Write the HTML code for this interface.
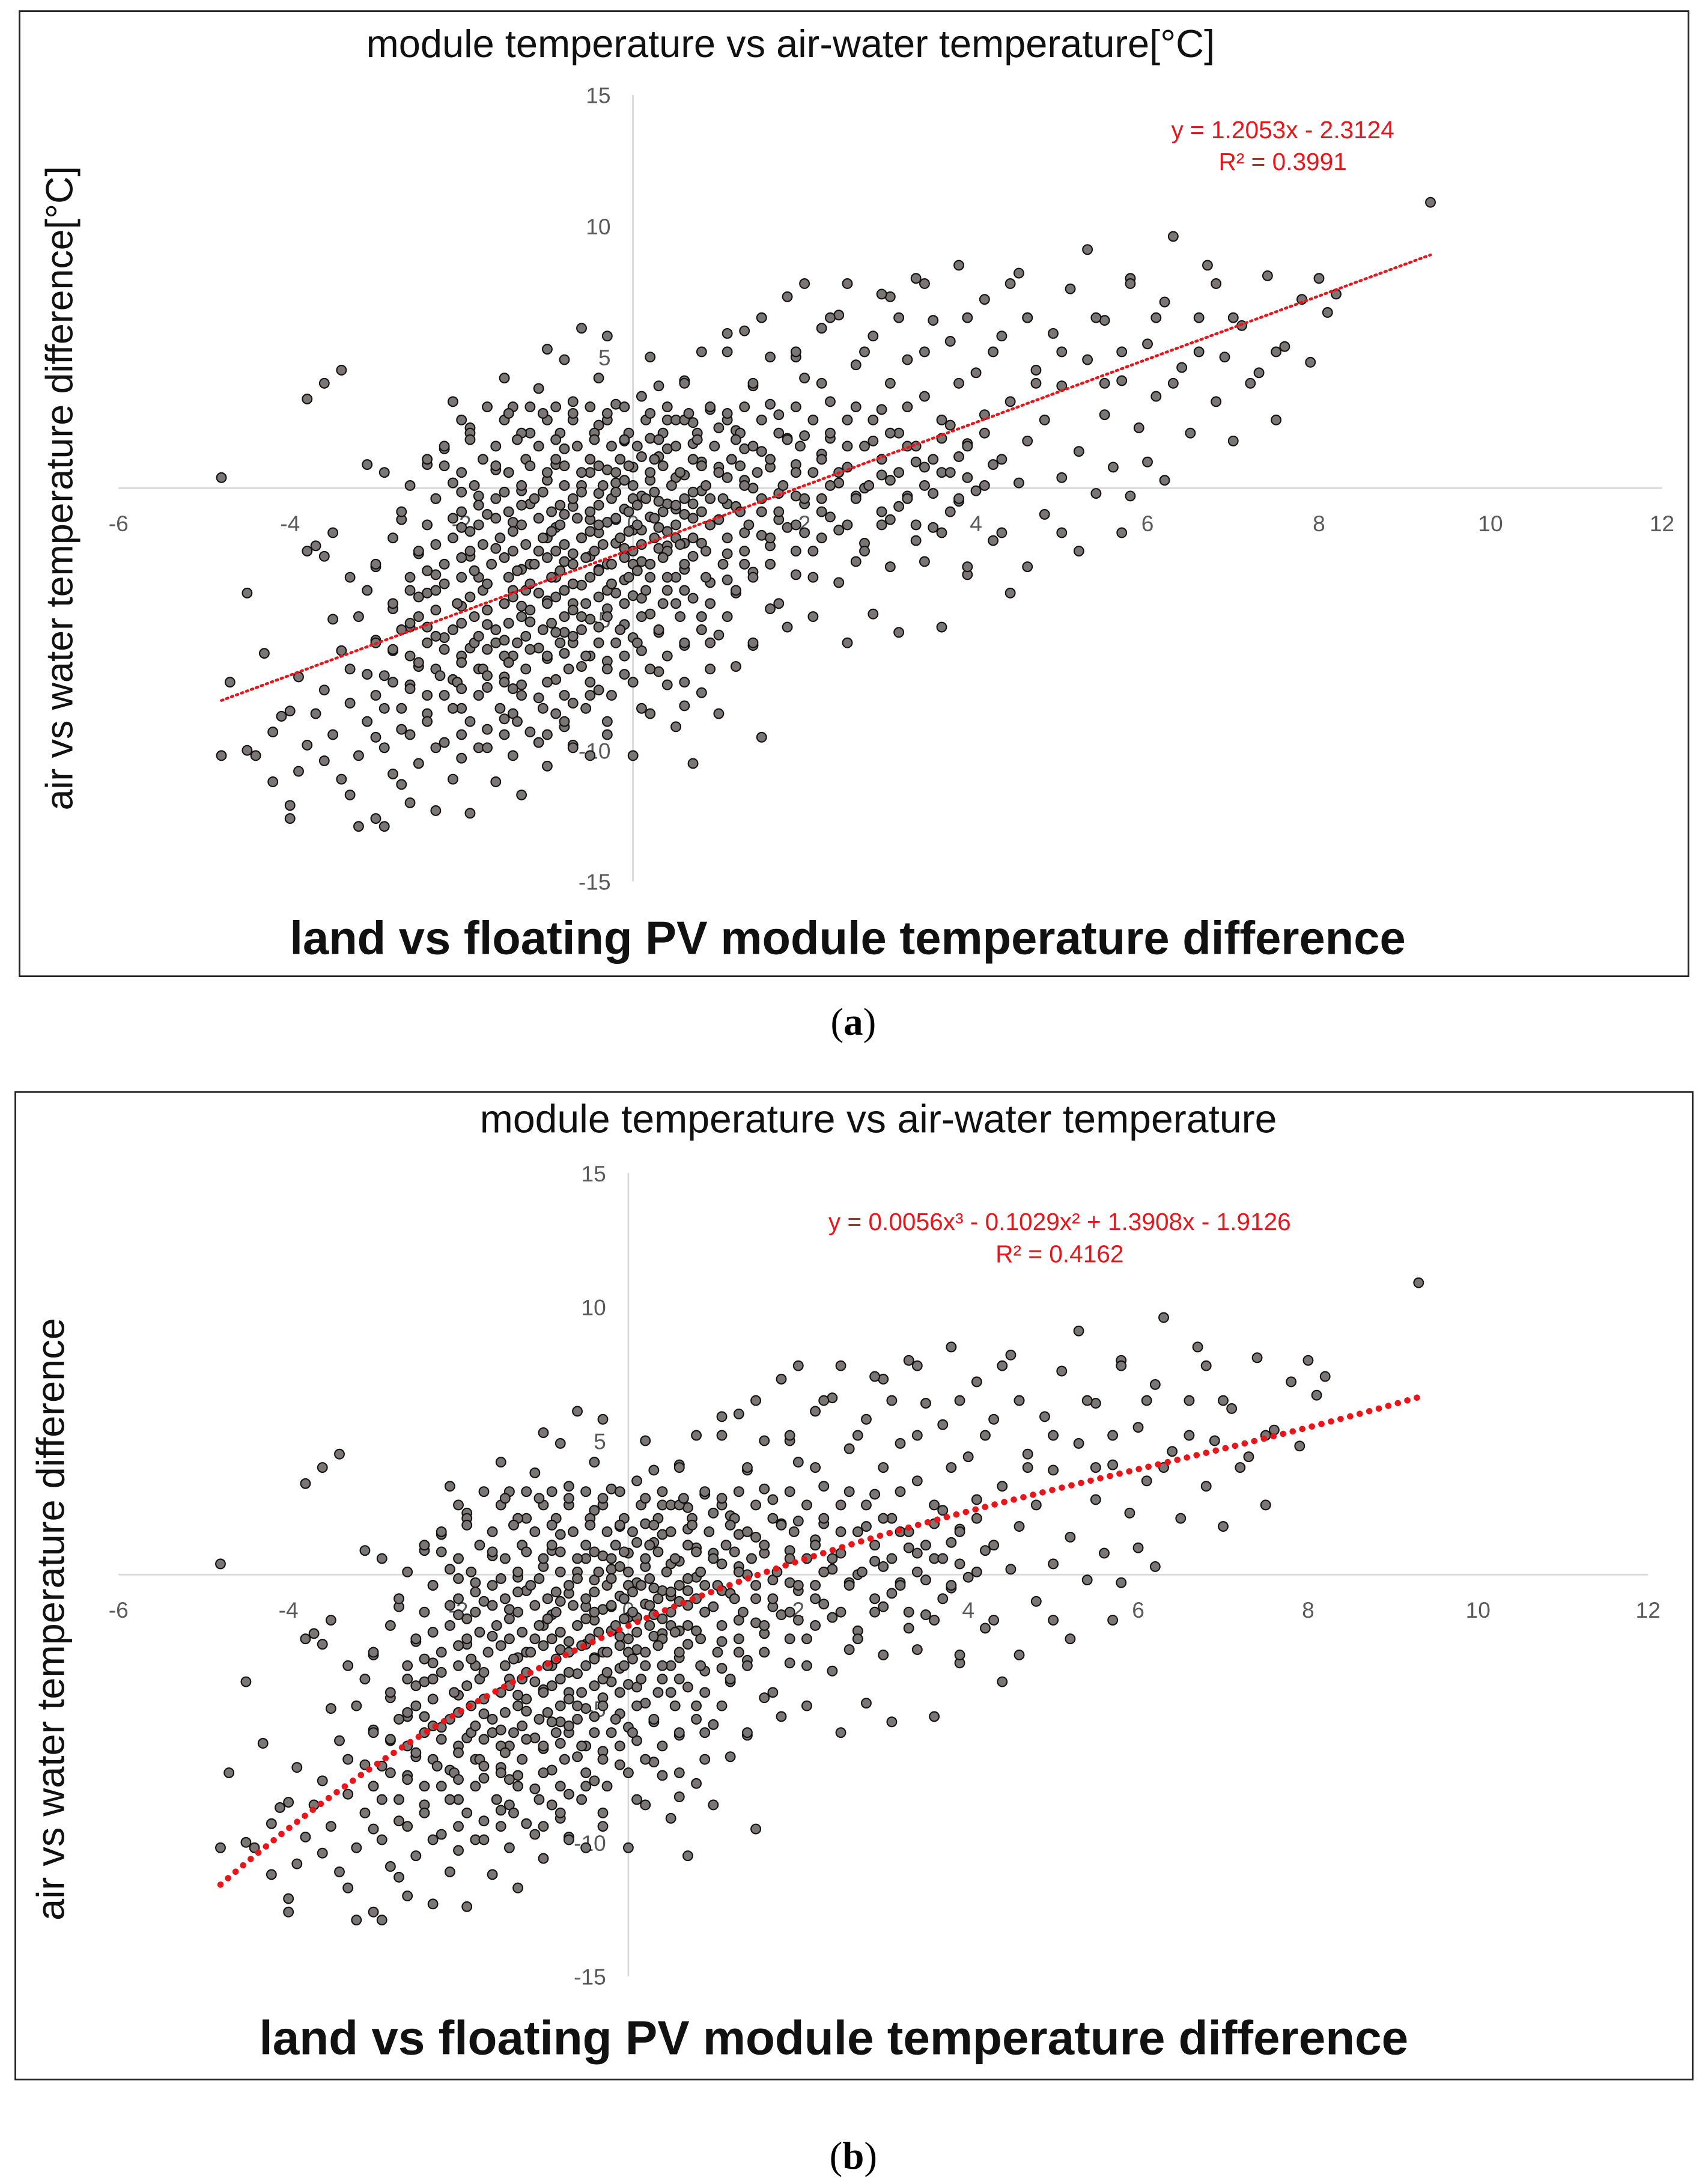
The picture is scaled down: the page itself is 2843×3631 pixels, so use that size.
<!DOCTYPE html>
<html><head><meta charset="utf-8">
<style>
html,body{margin:0;padding:0;background:#fff;}
svg{display:block;}
text{font-family:"Liberation Sans",sans-serif;}
</style></head>
<body>
<svg id="fig" width="2843" height="3631" viewBox="0 0 1225 1564.5" preserveAspectRatio="none" xmlns="http://www.w3.org/2000/svg">
<rect x="0" y="0" width="1225" height="1565" fill="#fff"/>
<rect x="14" y="8" width="1197" height="692" fill="none" stroke="#222" stroke-width="1.2"/>
<rect x="11" y="783" width="1203" height="708" fill="none" stroke="#222" stroke-width="1.2"/>
<g id="pa"></g>
<g id="pb"></g>
<text x="612" y="742" text-anchor="middle" font-size="28" style="font-family:'Liberation Serif',serif">(<tspan font-weight="bold">a</tspan>)</text>
<text x="612" y="1555" text-anchor="middle" font-size="28" style="font-family:'Liberation Serif',serif">(<tspan font-weight="bold">b</tspan>)</text>
</svg>
<script>
const xTicks=[-6,-4,-2,0,2,4,6,8,10,12];
const yTicks=[15,10,5,0,-5,-10,-15];
const xs=[-4.8,-4.8,-4.7,-4.5,-4.5,-4.4,-4.3,-4.2,-4.1,-4.0,-4.0,-3.9,-3.9,-3.8,-3.8,-3.7,-3.7,-3.6,-3.6,-3.5,-3.5,-3.4,-3.4,-3.3,-3.3,-3.2,-3.2,-3.1,-3.0,-3.0,-3.0,-2.9,-2.9,-2.8,-2.8,-2.7,-2.7,-2.6,-2.6,-2.5,-2.5,-2.5,-2.4,-2.4,-2.4,-2.3,-2.3,-2.2,-2.2,-2.2,-2.1,-2.1,-2.0,-2.0,-2.0,-1.9,-1.9,-1.9,-1.8,-1.8,-1.8,-1.7,-1.7,-1.6,-1.6,-1.6,-1.5,-1.5,-1.5,-1.4,-1.4,-1.4,-1.3,-1.3,-1.3,-1.2,-1.2,-1.2,-1.2,-1.1,-1.1,-1.1,-1.0,-1.0,-1.0,-1.0,-0.9,-0.9,-0.9,-0.8,-0.8,-0.8,-0.8,-0.7,-0.7,-0.7,-0.7,-0.6,-0.6,-0.6,-0.6,-0.5,-0.5,-0.5,-0.5,-0.4,-0.4,-0.4,-0.4,-0.3,-0.3,-0.3,-0.3,-0.2,-0.2,-0.2,-0.1,-0.1,-0.1,-0.1,0.0,0.0,0.0,0.0,0.1,0.1,0.1,0.1,0.2,0.2,0.2,0.2,0.3,0.3,0.3,0.4,0.4,0.4,0.4,0.5,0.5,0.5,0.5,0.6,0.6,0.6,0.6,0.7,0.7,0.7,0.8,0.8,0.8,0.9,0.9,0.9,1.0,1.0,1.0,1.1,1.1,1.1,1.2,1.2,1.2,1.3,1.3,1.4,1.4,1.4,1.5,1.5,1.5,1.6,1.6,1.6,1.7,1.7,1.8,1.8,1.8,1.9,1.9,2.0,2.0,2.0,2.1,2.1,2.2,2.2,2.3,2.3,2.4,2.4,2.5,2.5,2.5,2.6,2.6,2.7,2.7,2.8,2.8,2.9,2.9,3.0,3.0,3.1,3.1,3.2,3.2,3.3,3.3,3.4,3.4,3.5,3.5,3.6,3.6,3.7,3.7,3.8,3.8,3.9,3.9,4.0,4.0,4.1,4.1,4.2,4.2,4.3,4.4,4.4,4.5,4.5,4.6,4.6,4.7,4.8,4.8,4.9,5.0,5.0,5.1,5.2,5.2,5.3,5.3,5.4,5.5,5.5,5.6,5.7,5.8,5.8,5.9,6.0,6.0,6.1,6.2,6.2,6.3,6.4,6.5,6.6,6.7,6.8,6.9,7.0,7.1,7.3,7.4,7.5,7.6,7.8,7.9,8.0,8.1,8.2,9.3,
-2.3,-2.1,-1.9,-1.7,-1.6,-1.5,-1.4,-1.3,-1.2,-1.1,-1.0,-1.0,-0.9,-0.9,-0.8,-0.8,-0.7,-0.7,-0.6,-0.6,-0.5,-0.5,-0.4,-0.4,-0.3,-0.3,-0.2,-0.2,-0.1,-0.1,0.0,0.0,0.0,0.1,0.1,0.2,0.2,0.3,0.3,0.4,0.4,0.5,0.5,0.6,0.6,0.7,0.7,0.8,0.8,0.9,0.9,1.0,1.0,1.1,1.1,1.2,1.3,1.3,1.4,1.5,1.6,1.7,1.8,1.9,2.0,2.1,2.2,2.3,2.4,2.5,2.6,2.7,2.8,2.9,3.0,3.1,3.2,3.3,3.4,3.5,3.6,3.7,3.8,3.9,-2.6,-2.4,-2.2,-2.0,-1.8,-1.7,-1.5,-1.4,-1.3,-1.1,-0.9,-0.7,-0.5,-0.3,-0.1,0.1,0.3,0.5,0.6,-3.0,-2.8,-2.7,-3.1,-2.9,-2.6,-3.5,-3.6,-4.0,-4.2,-3.3,-2.1,-1.4,-0.8,-1.1,-0.4,-0.2,0.3,0.8,1.3,1.9,2.4,2.9,1.6,0.7,0.2,-3.4,-3.6,-3.8];
const ys=[0.4,-10.2,-7.4,-4.0,-10,-10.2,-6.3,-11.2,-8.7,-12.6,-12.1,-7.2,-10.8,-2.4,-9.8,-2.2,-8.6,-2.6,-10.4,-1.7,-9.4,-6.2,-11.1,-3.4,-8.2,-12.9,-10.2,-7.1,-12.6,-9.5,-5.8,-12.9,-8.4,-10.9,-4.6,-1.2,-9.2,-12.0,-7.5,-2.5,-6.8,-10.5,0.9,-4.0,-8.6,-12.3,-3.3,1.5,-5.7,-9.7,-7.3,-11.1,-1.5,-4.5,-8.4,-12.4,2.3,-6.1,-0.3,-3.4,-9.9,-5.2,-7.6,-11.2,0.7,-2.3,-4.4,-8.8,4.2,-1.3,-6.4,-10.2,-3.1,-7.5,-11.7,2.1,-0.6,-5.1,-9.3,-2.4,-4.0,-8.0,5.3,0.3,-6.5,-10.6,-1.5,-3.4,-7.3,1.5,-2.8,-5.5,-9.1,3.3,-0.7,-4.4,-8.2,6.1,-1.9,-3.7,-6.8,0.6,-2.6,-5.0,-10.2,2.4,-0.2,-3.1,-7.7,-1.3,-4.6,-9.4,5.8,0.2,-2.1,-5.9,1.8,-0.8,-3.5,-7.1,0.8,-1.6,-4.1,-10.2,3.5,-0.3,-2.8,-6.2,-1.1,-4.8,-8.6,5.0,1.2,-2.3,-5.5,2.6,-0.6,-3.9,-7.5,0.4,-1.9,-4.4,-9.1,4.1,-1.0,-3.1,-6.0,1.7,-2.6,-10.5,-0.1,-4.9,-7.8,3.0,-1.4,-3.6,0.8,-5.6,-8.6,5.9,-0.6,-2.5,2.2,-4.0,-6.8,0.3,-1.7,3.9,-3.2,-6.0,1.4,-0.9,-9.5,5.0,-2.2,-4.6,2.8,-0.2,7.3,-1.5,-5.3,0.9,-3.3,4.2,2.0,-0.6,-2.4,-4.9,6.1,1.3,3.3,-1.1,-3.6,0.2,7.8,2.6,-5.9,-0.3,4.7,1.6,-2.1,5.8,-4.8,0.5,3.0,7.3,-1.2,2.1,-5.5,4.9,-0.3,8.0,1.0,-2.8,3.5,6.4,-1.5,0.6,-5.3,2.4,5.6,-0.5,8.5,1.7,-3.3,4.4,-0.1,7.2,2.8,-2.0,0.9,5.8,-4.0,3.3,8.2,0.2,1.8,6.5,4.5,-1.0,2.6,5.9,0.4,3.9,7.6,-2.4,1.4,9.1,4.9,-0.2,2.8,6.4,0.8,4.1,-0.3,8.0,2.3,5.5,1.0,3.5,7.1,0.3,9.6,4.6,2.1,6.5,8.5,3.3,5.0,1.8,6.2,4.4,8.1,2.6,5.4,7.2,4.8,8.0,6.7,7.4,10.9,
-0.4,0.2,-2.6,-1.0,-5.9,-7.2,-3.9,-0.1,-2.9,-6.1,-1.9,-4.3,0.9,-5.5,-1.0,-6.3,-2.5,-5.9,0.1,-4.9,-1.2,-6.4,-1.7,-5.3,0.7,-2.9,-1.2,-4.0,0.3,-2.3,-0.4,-2.9,-5.7,1.2,-1.6,0.3,-3.4,-0.5,-1.5,1.5,-2.2,-0.8,2.6,0.5,-2.1,-0.6,-4.2,1.0,-2.1,-0.4,-5.9,-1.2,2.3,0.4,-3.5,-0.7,1.5,-2.9,0.0,-1.8,0.8,-1.2,1.9,-0.3,-1.7,0.6,-0.4,1.9,-1.6,0.8,-2.8,0.0,1.8,-1.4,0.3,-0.7,1.6,-2.0,0.8,-0.2,1.9,-0.9,1.2,0.4,-3.9,-5.3,-7.9,-10.3,-6.9,-9.2,-5.8,-8.6,-4.5,-9.7,-8.6,-9.8,-7.9,-6.6,-5.2,-4.2,-7.0,-3.4,-8.3,-3.0,-6.2,-11.3,0.9,0.6,-5.3,-5.0,-7.7,-8.5,-9.3,-11.7,3.3,3.1,4.9,3.8,4.2,3.2,3.9,5.2,6.0,5.0,6.6,7.4,3.2,2.5,1.9,4.5,4.0,3.4];
// extra dense-band points read row by row: y value of each row, x values within that row
const rowY=[3.1,2.6,2.1,1.6,1.1,0.6,0.1,-0.4,-0.9,-1.4,-1.9,-2.4,-2.9,-3.4,-3.9,-4.4,-4.9,-5.4,-5.9,-6.4,-6.9,-7.4,-7.9,-8.4,-8.9,-9.4,-9.9,6.5,5.2,4.0,-1.7,-3.0,7.8,
2.85,1.85,0.85,-0.15,-0.65,-1.15,-1.65,-2.15,-2.65,-3.15,-3.65,-4.15,-4.65,-5.15,-5.65,-6.15,-6.65,-7.15,-7.65];
const rowX=[
[-1.7,-1.2,-0.9,-0.5,-0.1,0.4,0.9,1.3,1.9,2.6,3.2],
[-2.0,-1.5,-1.0,-0.7,-0.3,0.15,0.6,1.1,1.5,2.1,2.8,3.6],
[-1.9,-1.3,-0.85,-0.45,-0.05,0.35,0.75,1.25,1.7,2.3,3.0,4.1],
[-2.2,-1.6,-1.1,-0.65,-0.25,0.05,0.5,0.95,1.4,1.95,2.5,3.3,3.9],
[-2.4,-1.75,-1.25,-0.9,-0.5,-0.15,0.25,0.7,1.15,1.6,2.2,2.9,3.5,4.3],
[-2.0,-1.45,-1.0,-0.6,-0.2,0.2,0.55,1.0,1.45,1.9,2.4,3.1,3.7],
[-2.6,-1.85,-1.3,-0.8,-0.35,0.0,0.45,0.85,1.3,1.75,2.3,2.75,3.4,4.1],
[-2.3,-1.6,-1.15,-0.7,-0.25,0.15,0.6,1.05,1.5,2.0,2.6,3.2,3.8],
[-2.7,-2.0,-1.45,-0.95,-0.5,-0.05,0.35,0.8,1.25,1.7,2.2,2.9],
[-2.4,-1.8,-1.3,-0.85,-0.4,0.05,0.5,0.9,1.35,1.9,2.5,3.3],
[-2.8,-2.1,-1.55,-1.05,-0.6,-0.15,0.25,0.7,1.1,1.6,2.2],
[-2.5,-1.9,-1.4,-0.9,-0.45,0.0,0.4,0.85,1.3,1.9,2.7],
[-3.0,-2.2,-1.65,-1.15,-0.7,-0.25,0.2,0.6,1.05,1.6],
[-2.6,-2.0,-1.45,-0.95,-0.5,-0.05,0.4,0.85,1.4,2.1],
[-3.1,-2.3,-1.75,-1.25,-0.8,-0.3,0.15,0.6,1.2],
[-2.8,-2.05,-1.5,-1.0,-0.55,-0.1,0.35,0.9,1.7],
[-3.2,-2.5,-1.85,-1.3,-0.8,-0.3,0.1,0.55,1.1],
[-2.7,-2.1,-1.6,-1.05,-0.6,-0.15,0.3,0.8],
[-3.0,-2.4,-1.85,-1.35,-0.85,-0.4,0.05,0.6,1.4],
[-2.6,-2.0,-1.5,-1.0,-0.55,-0.1,0.4],
[-3.3,-2.3,-1.75,-1.25,-0.75,-0.3,0.2,0.9],
[-2.8,-2.05,-1.5,-1.0,-0.5,0.0,0.6],
[-3.0,-2.4,-1.8,-1.3,-0.8,-0.25],
[-2.7,-2.1,-1.55,-1.05,-0.55,0.1],
[-3.1,-2.4,-1.9,-1.35,-0.8,-0.3],
[-2.6,-2.0,-1.5,-1.0],
[-2.9,-2.3,-1.7,-0.7],
[1.5,2.3,3.1,3.9,4.6,5.4,6.1,7.0],
[1.1,1.9,2.7,3.4,4.2,5.0,5.7,6.6,7.5],
[0.6,1.4,2.2,3.0,3.8,4.7,5.5,6.3,7.2],
[3.6,4.3,5.0,5.7],
[3.0,3.9,4.6],
[2.0,3.4,4.4,5.8,6.8],
[-1.45,-1.05,-0.7,-0.3,0.2,0.65,1.1],
[-1.9,-1.35,-0.9,-0.45,-0.1,0.3,0.75,1.2,1.8],
[-2.2,-1.6,-1.2,-0.8,-0.4,-0.05,0.35,0.8,1.25],
[-2.0,-1.5,-1.05,-0.6,-0.2,0.25,0.7],
[-1.8,-1.3,-0.85,-0.4,0.05,0.5],
[-2.1,-1.6,-1.1,-0.65,-0.2,0.25,0.7],
[-1.9,-1.4,-0.95,-0.5,-0.05,0.4],
[-2.3,-1.75,-1.25,-0.8,-0.35,0.1,0.55],
[-2.0,-1.5,-1.0,-0.55,-0.1,0.35],
[-2.4,-1.85,-1.35,-0.85,-0.4,0.05],
[-2.2,-1.7,-1.2,-0.7,-0.25],
[-2.5,-1.9,-1.4,-0.9,-0.4],
[-2.3,-1.7,-1.2,-0.7],
[-2.6,-2.0,-1.45,-0.95],
[-2.3,-1.8,-1.25,-0.7],
[-2.8,-2.2,-1.7,-1.2],
[-2.5,-2.0,-1.45],
[-2.9,-2.25,-1.7],
[-2.6,-2.0,-1.4]];
const fitA=[1.2053,-2.3124];
const fitB=[0.0056,-0.1029,1.3908,-1.9126];
const NS='http://www.w3.org/2000/svg';
function mk(tag,attrs,parent,txt){const e=document.createElementNS(NS,tag);for(const k in attrs)e.setAttribute(k,attrs[k]);if(txt!==undefined)e.textContent=txt;parent.appendChild(e);return e;}
function panel(g,cfg){
  const sx=v=>cfg.x0+(v-(-6))*(cfg.x1-cfg.x0)/18;
  const sy=v=>cfg.yTop+(15-v)*(cfg.yBot-cfg.yTop)/30;
  let e;
  e=mk('line',{x1:cfg.x0,x2:cfg.x1,y1:sy(0),y2:sy(0),stroke:'#d9d9d9','stroke-width':1.2},g);
  
  
  e=mk('line',{x1:sx(0),x2:sx(0),y1:cfg.yTop,y2:cfg.yBot,stroke:'#d9d9d9','stroke-width':1.2},g);
  
  
  xTicks.forEach(t=>{
    e=mk('text',{x:sx(t),y:sy(0)+31,'text-anchor':'middle','font-size':16,fill:'#595959'},g,String(t));
    
    
  });
  yTicks.forEach(t=>{ if(t===0)return;
    e=mk('text',{x:sx(0)-16,y:sy(t)+6,'text-anchor':'end','font-size':16,fill:'#595959'},g,String(t));
    
    
  });
  const dot=(x,y)=>{
    const c=mk('circle',{cx:sx(x),cy:sy(y),r:3.4,fill:'#7b7673',stroke:'#111','stroke-width':0.9},g);
    
    
  };
  for(let i=0;i<xs.length;i++) dot(xs[i],ys[i]);
  for(let r=0;r<rowY.length;r++) rowX[r].forEach(x=>dot(x,rowY[r]));
  let d='';
  for(let k=0;k<=60;k++){const x=-4.8+k*(9.3+4.8)/60;const y=cfg.f(x);d+=(k?'L':'M')+sx(x).toFixed(2)+','+sy(y).toFixed(2);}
  e=mk('path',{d:d,fill:'none',stroke:'#e8161b','stroke-width':cfg.tw,'stroke-dasharray':cfg.dash,'stroke-linecap':'round'},g);
  
  
  e=mk('text',{x:cfg.eqx,y:cfg.eqy,'text-anchor':'middle','font-size':17.5,fill:'#e8161b'},g,cfg.eq);
  
  
  e=mk('text',{x:cfg.eqx,y:cfg.eqy+23,'text-anchor':'middle','font-size':17.5,fill:'#e8161b'},g,cfg.r2);
  
  
  e=mk('text',{x:cfg.tx,y:cfg.ty,'text-anchor':'middle','font-size':cfg.tfs,fill:'#111'},g,cfg.title);
  
  
  e=mk('text',{x:cfg.yx,y:cfg.yy,'text-anchor':'middle','font-size':cfg.yfs,fill:'#111',transform:'rotate(-90 '+cfg.yx+' '+cfg.yy+')'},g,cfg.ytitle);
  
  
  e=mk('text',{x:cfg.xtx,y:cfg.xty,'text-anchor':'middle','font-size':cfg.xfs,'font-weight':'bold',fill:'#111'},g,'land vs floating PV module temperature difference');
  
  
}
panel(document.getElementById('pa'),{x0:85,x1:1192,yTop:68,yBot:632,
  f:x=>fitA[0]*x+fitA[1],tw:2,dash:'1.2 2.6',
  eq:'y = 1.2053x - 2.3124',r2:'R² = 0.3991',eqx:920,eqy:99,
  title:'module temperature vs  air-water temperature[°C]',tx:567,ty:41,tfs:28,
  ytitle:'air vs water  temperature difference[°C]',yx:52,yy:350,yfs:27,
  xtx:608,xty:684,xfs:33.5});
panel(document.getElementById('pb'),{x0:85,x1:1182,yTop:841,yBot:1417,
  f:x=>((fitB[0]*x+fitB[1])*x+fitB[2])*x+fitB[3],tw:4.5,dash:'0.1 7',
  eq:'y = 0.0056x³ - 0.1029x² + 1.3908x - 1.9126',r2:'R² = 0.4162',eqx:760,eqy:882,
  title:'module temperature vs air-water temperature',tx:630,ty:812,tfs:28.5,
  ytitle:'air vs water temperature difference',yx:46,yy:1161,yfs:28,
  xtx:598,xty:1473,xfs:34.5});
</script>
</body></html>
